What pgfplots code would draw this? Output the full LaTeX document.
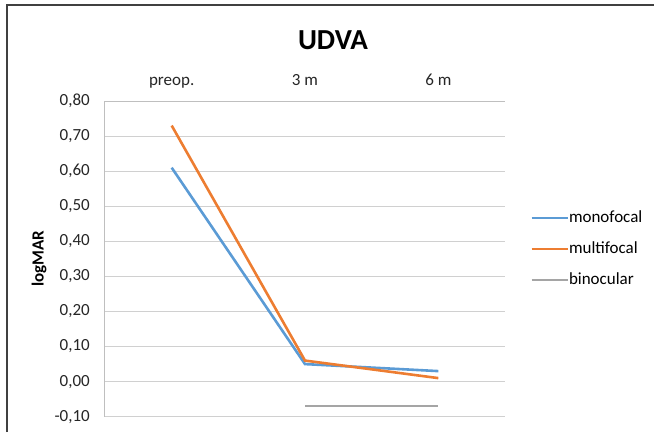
\documentclass[border=0pt]{standalone}
\usepackage{pgfplots}
\pgfplotsset{compat=1.18}
\usepackage{fontspec}
\setmainfont{Carlito}
\definecolor{mono}{HTML}{5B9BD5}
\definecolor{multi}{HTML}{ED7D31}
\definecolor{bino}{HTML}{A5A5A5}
\definecolor{gridc}{HTML}{D0D0D0}
\definecolor{axc}{HTML}{BFBFBF}
\begin{document}
\begin{tikzpicture}[x=1pt,y=1pt]
\path[use as bounding box] (0pt,0pt) rectangle (654pt,432pt);
\draw[line width=1.6pt, color=black!75] (7pt,0pt) -- (7pt,427pt) -- (654pt,427pt);
\node[font=\fontsize{29}{34}\selectfont\bfseries] at (333pt,392pt) {UDVA};
\begin{axis}[
  at={(105pt,15.3pt)}, anchor=south west, scale only axis,
  width=400pt, height=315.7pt,
  xmin=-0.5, xmax=2.5, ymin=-0.1, ymax=0.8,
  xtick={0,1,2}, xticklabels={preop.,3 m,6 m},
  ytick={-0.1,0,0.1,0.2,0.3,0.4,0.5,0.6,0.7,0.8},
  axis x line*=top, axis y line*=left,
  axis line style={draw=axc, line width=1pt},
  major tick length=0pt,
  ymajorgrids, grid style={draw=gridc, line width=1pt},
  /pgf/number format/.cd, fixed, fixed zerofill, precision=2, use comma, assume math mode=true,
  /pgfplots/.cd,
  tick label style={font=\fontsize{17}{20}\selectfont, text=black!85},
  yticklabel style={anchor=east, inner sep=0pt, xshift=-15pt},
  xticklabel style={anchor=base, inner sep=0pt, yshift=16pt},
  ylabel={logMAR},
  ylabel style={at={(axis description cs:-0.165,0.5)}, anchor=center, font=\fontsize{17}{20}\selectfont\bfseries},
  legend style={at={(axis description cs:1.063,0.531)}, anchor=west, draw=none, fill=none,
    inner sep=0pt, row sep=15pt, column sep=0pt, font=\fontsize{17}{20}\selectfont,
    nodes={inner sep=0pt, text height=12pt, text depth=4pt}},
  legend cell align=left,
  legend image code/.code={\draw[#1] (0pt,0pt) -- (36pt,0pt);},
  every axis plot/.append style={line width=2.6pt, mark=none},
]
\addplot[color=mono] coordinates {(0,0.61) (1,0.05) (2,0.03)};
\addplot[color=multi] coordinates {(0,0.73) (1,0.06) (2,0.01)};
\addplot[color=bino] coordinates {(1,-0.07) (2,-0.07)};
\legend{monofocal,multifocal,binocular}
\end{axis}
\end{tikzpicture}
\end{document}
